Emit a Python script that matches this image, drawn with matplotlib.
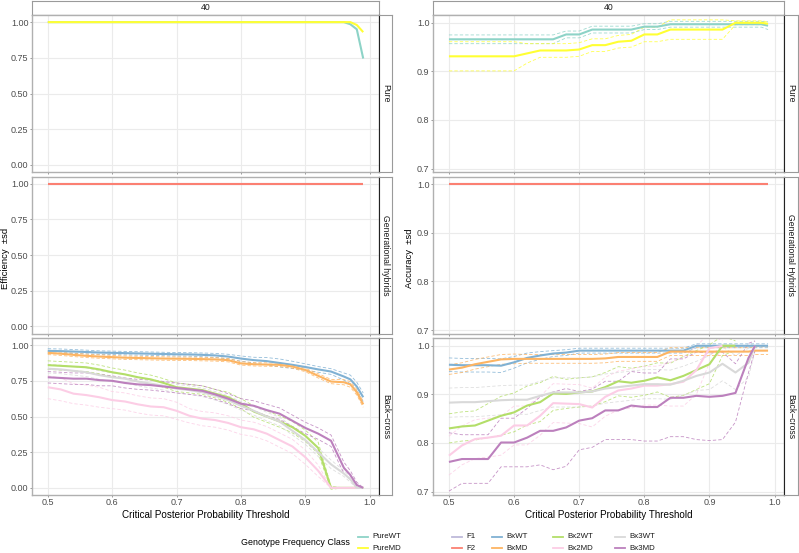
import numpy as np
import matplotlib.pyplot as plt
from matplotlib.lines import Line2D

plt.rcParams['font.family'] = ['Liberation Sans', 'DejaVu Sans']

nan = np.nan

# critical posterior probability thresholds
threshold = [0.50, 0.52, 0.54, 0.56, 0.58, 0.60, 0.62, 0.64, 0.66, 0.68, 0.70, 0.72,
             0.74, 0.76, 0.78, 0.80, 0.82, 0.84, 0.86, 0.88, 0.90, 0.92, 0.94, 0.96,
             0.97, 0.98, 0.99]

classes = ['PureWT', 'PureMD', 'F1', 'F2', 'BxWT', 'BxMD', 'Bx2WT', 'Bx2MD', 'Bx3WT', 'Bx3MD']
class_colors = ['#8dd3c7', '#ffff33', '#bebada', '#fb8072', '#80b1d3',
                '#fdb462', '#b3de69', '#fccde5', '#d9d9d9', '#bc80bd']
row_labels_eff = ['Pure', 'Generational hybrids', 'Back\u2212cross']
row_labels_acc = ['Pure', 'Generational Hybrids', 'Back\u2212cross']

# ---- efficiency (mean, sd) ----
eff_purewt = [1.0] * 24 + [0.985, 0.95, 0.745]
eff_puremd = [1.0] * 25 + [0.98, 0.93]
eff_f1 = [1.0] * 27
eff_f2 = [1.0] * 27
eff_bxwt = [.960, .958, .955, .952, .948, .946, .944, .942, .940, .938, .936, .935, .932,
            .928, .920, .906, .895, .888, .875, .862, .847, .830, .815, .780, .760, .710, .635]
eff_bxwt_sd = [.015, .015, .014, .013, .012, .012, .012, .012, .012, .012, .012, .012, .013,
               .014, .016, .018, .020, .025, .028, .025, .022, .020, .020, .025, .030, .030, .030]
eff_bxmd = [.946, .940, .932, .925, .920, .916, .912, .910, .908, .906, .905, .904, .902,
            .900, .895, .872, .866, .864, .862, .850, .826, .785, .745, .740, .725, .670, .585]
eff_bxmd_sd = [.012, .012, .012, .012, .012, .012, .012, .012, .012, .012, .012, .012, .012,
               .012, .012, .012, .012, .012, .012, .012, .012, .015, .015, .018, .020, .020, .020]
eff_bx2wt = [.860, .855, .850, .845, .830, .810, .795, .775, .760, .735, .705, .695, .685,
             .660, .635, .590, .535, .500, .465, .425, .365, .280, .000, 0, 0, 0, 0]
eff_bx2wt_sd = [.03, .03, .03, .03, .03, .03, .03, .03, .03, .03, .03, .03, .03,
                .03, .035, .035, .04, .04, .04, .04, .04, .04, .01, 0, 0, 0, 0]
eff_bx2md = [.705, .690, .660, .650, .635, .615, .605, .585, .570, .565, .540, .505, .485,
             .475, .455, .425, .410, .380, .335, .290, .215, .120, .000, 0, 0, 0, 0]
eff_bx2md_sd = [.08, .08, .07, .07, .07, .06, .06, .06, .06, .06, .06, .05, .05,
                .05, .05, .05, .05, .05, .05, .05, .05, .04, 0, 0, 0, 0, 0]
eff_bx3wt = [.835, .830, .820, .810, .790, .775, .765, .745, .730, .715, .695, .685, .670,
             .645, .615, .575, .540, .500, .465, .400, .335, .250, .165, .100, .060, .000, 0]
eff_bx3wt_sd = [.03, .03, .03, .03, .03, .03, .03, .03, .03, .03, .03, .03, .03,
                .03, .03, .03, .03, .03, .03, .03, .03, .03, .03, .02, .02, 0, 0]
eff_bx3md = [.775, .770, .765, .765, .755, .750, .735, .725, .720, .710, .700, .690, .680,
             .655, .625, .590, .575, .545, .520, .470, .420, .380, .330, .140, .090, .020, 0]
eff_bx3md_sd = [.04, .04, .04, .04, .04, .035, .035, .035, .035, .035, .035, .035, .035,
                .035, .035, .035, .035, .04, .04, .04, .04, .04, .04, .04, .03, .02, 0]

# ---- accuracy (mean, sd) ----
acc_purewt = [.966, .966, .966, .966, .966, .966, .966, .966, .966, .976, .976, .986, .986,
              .986, .986, .992, .992, .997, .997, .997, .997, .997, .997, .997, .997, .997, .994]
acc_purewt_sd = [.009, .009, .009, .009, .009, .009, .009, .009, .009, .007, .007, .007, .007,
                 .007, .007, .006, .006, .006, .006, .006, .006, .006, .006, .006, .006, .006, .008]
acc_puremd = [.931, .931, .931, .931, .931, .931, .937, .943, .943, .943, .945, .954, .954,
              .961, .963, .976, .976, .986, .986, .986, .986, .986, 1.0, 1.0, 1.0, 1.0, .998]
acc_puremd_sd = [.030, .030, .030, .030, .030, .030, .020, .014, .014, .014, .014, .013, .013,
                 .013, .013, .015, .015, .020, .020, .020, .020, .020, .004, .004, .004, .004, .004]
acc_f1 = [1.0] * 27
acc_f2 = [1.0] * 27
acc_bxwt = [.961, .960, .960, .960, .959, .966, .975, .980, .984, .986, .990, .990, .990,
            .990, .990, .990, .990, .990, .990, 1.0, 1.0, 1.0, 1.0, 1.0, 1.0, 1.0, 1.0]
acc_bxwt_sd = [.014, .014, .014, .014, .014, .012, .010, .008, .006, .006, .005, .005, .005,
               .005, .005, .005, .005, .005, .005, .004, .004, .004, .004, .004, .004, .004, .004]
acc_bxmd = [.951, .955, .962, .967, .972, .973, .973, .973, .973, .973, .973, .973, .974,
            .977, .977, .977, .977, .988, .988, .988, .988, .988, .988, .988, .990, .990, .990]
acc_bxmd_sd = [.010, .010, .010, .010, .010, .010, .009, .009, .009, .009, .009, .009, .009,
               .009, .009, .009, .009, .008, .008, .008, .008, .008, .008, .008, .008, .008, .008]
acc_bx2wt = [.830, .834, .836, .846, .856, .863, .877, .884, .902, .901, .904, .906, .915,
             .927, .924, .928, .935, .929, .938, .950, .962, 1.0, 1.0, nan, nan, nan, nan]
acc_bx2wt_sd = [.03, .03, .03, .035, .04, .04, .04, .04, .035, .03, .03, .03, .03,
                .03, .03, .03, .03, .035, .04, .04, .04, .02, .01, nan, nan, nan, nan]
acc_bx2md = [.774, .795, .808, .811, .815, .836, .836, .856, .882, .881, .880, .873, .895,
             .908, .912, .918, .918, .921, .926, .950, .995, 1.0, nan, nan, nan, nan, nan]
acc_bx2md_sd = [.04, .04, .04, .04, .04, .04, .04, .04, .04, .04, .04, .04, .04,
                .04, .04, .04, .04, .045, .05, .05, .03, .01, nan, nan, nan, nan, nan]
acc_bx3wt = [.883, .884, .884, .886, .888, .889, .889, .897, .904, .904, .904, .906, .912,
             .915, .918, .921, .921, .920, .928, .938, .945, .963, .945, .965, 1.0, nan, nan]
acc_bx3wt_sd = [.03, .03, .03, .03, .03, .03, .03, .03, .03, .03, .03, .03, .03,
                .03, .03, .03, .03, .03, .03, .03, .035, .035, .035, .03, .01, nan, nan]
acc_bx3md = [.761, .767, .767, .767, .801, .801, .811, .825, .825, .832, .846, .851, .867,
             .867, .877, .874, .874, .893, .893, .897, .895, .897, .903, .975, 1.0, nan, nan]
acc_bx3md_sd = [.06, .05, .05, .05, .05, .05, .06, .07, .08, .08, .06, .06, .06,
                .06, .07, .07, .07, .08, .08, .09, .09, .09, .06, .03, .01, nan, nan]

# panel contents: list of (class, mean, sd)
eff_rows = [
    [('PureWT', eff_purewt, None), ('PureMD', eff_puremd, None)],
    [('F1', eff_f1, None), ('F2', eff_f2, None)],
    [('BxWT', eff_bxwt, eff_bxwt_sd), ('BxMD', eff_bxmd, eff_bxmd_sd),
     ('Bx2WT', eff_bx2wt, eff_bx2wt_sd), ('Bx2MD', eff_bx2md, eff_bx2md_sd),
     ('Bx3WT', eff_bx3wt, eff_bx3wt_sd), ('Bx3MD', eff_bx3md, eff_bx3md_sd)],
]
acc_rows = [
    [('PureWT', acc_purewt, acc_purewt_sd), ('PureMD', acc_puremd, acc_puremd_sd)],
    [('F1', acc_f1, None), ('F2', acc_f2, None)],
    [('BxWT', acc_bxwt, acc_bxwt_sd), ('BxMD', acc_bxmd, acc_bxmd_sd),
     ('Bx2WT', acc_bx2wt, acc_bx2wt_sd), ('Bx2MD', acc_bx2md, acc_bx2md_sd),
     ('Bx3WT', acc_bx3wt, acc_bx3wt_sd), ('Bx3MD', acc_bx3md, acc_bx3md_sd)],
]
color_of = dict(zip(classes, class_colors))

W, H = 799, 553
fig = plt.figure(figsize=(W / 100, H / 100), dpi=100)


def box(x0, y0, x1, y1):
    return [x0 / W, 1 - y1 / H, (x1 - x0) / W, (y1 - y0) / H]


rows_px = [(15, 172), (176.5, 333.5), (338, 495)]
x = np.array(threshold)


def strip(rect, text, rot):
    s = fig.add_axes(rect)
    s.set_xticks([])
    s.set_yticks([])
    s.set_facecolor('white')
    for sp in s.spines.values():
        sp.set_color('#9a9a9a')
        sp.set_linewidth(0.8)
    s.text(0.5, 0.5, text, rotation=rot, ha='center', va='center',
           fontsize=6.2, color='#1a1a1a', transform=s.transAxes)
    return s


def column(x0, x1, sx1, rows, row_labels, ylim, yticks, ylabels, ytitle, ytitle_x):
    st = strip(box(x0, 0.5, x1, 15), '40', 0)
    st.spines['bottom'].set_color('#222222')
    for r, (y0, y1) in enumerate(rows_px):
        ax = fig.add_axes(box(x0, y0, x1, y1))
        ax.set_xlim(0.4755, 1.0145)
        ax.set_ylim(*ylim)
        ax.set_xticks([0.5, 0.6, 0.7, 0.8, 0.9, 1.0])
        ax.set_yticks(yticks)
        ax.set_yticklabels(ylabels)
        ax.grid(True, color='#ebebeb', linewidth=0.8)
        ax.set_axisbelow(True)
        for sp in ax.spines.values():
            sp.set_color('#b0b0b0')
            sp.set_linewidth(1.0)
        ax.tick_params(length=1.5, width=0.6, color='#8a8a8a', labelsize=6.5,
                       labelcolor='#4d4d4d', pad=1.0)
        if r < 2:
            ax.tick_params(axis='x', labelbottom=False)
        else:
            ax.set_xticklabels(['0.5', '0.6', '0.7', '0.8', '0.9', '1.0'])
            ax.set_xlabel('Critical Posterior Probability Threshold', fontsize=7.1,
                          labelpad=1.5, color='black')
        for name, mean, sd in rows[r]:
            c = color_of[name]
            m = np.array(mean, dtype=float)
            if sd is not None:
                s = np.array(sd, dtype=float)
                for band in (m + s, m - s):
                    ax.plot(x, band, color=c, linewidth=0.6, linestyle=(0, (4, 2.5)),
                            alpha=0.85, zorder=2)
            ax.plot(x, m, color=c, linewidth=1.5, zorder=3, solid_capstyle='butt')
        rs = strip(box(x1, y0, sx1, y1), row_labels[r], -90)
        rs.spines['left'].set_color('#222222')
    fig.text(ytitle_x / W, 1 - 258 / H, ytitle, rotation=90, ha='center', va='center',
             fontsize=6.8, color='black')


column(32, 379, 392, eff_rows, row_labels_eff, (-0.05, 1.05),
       [0, 0.25, 0.5, 0.75, 1.0], ['0.00', '0.25', '0.50', '0.75', '1.00'],
       'Efficiency  \u00b1sd', 5.5)
column(433, 784, 798, acc_rows, row_labels_acc, (0.693, 1.016),
       [0.7, 0.8, 0.9, 1.0], ['0.7', '0.8', '0.9', '1.0'],
       'Accuracy  \u00b1sd', 409)

# legend: two rows, five columns, title on the left
legend_key_x = [358, 452, 492, 553, 615]
legend_row_y = [537, 548]
fig.text(350 / W, 1 - 542.5 / H, 'Genotype Frequency Class', ha='right', va='center',
         fontsize=6.4, color='black')
for i, name in enumerate(classes):
    col, row = divmod(i, 2)
    kx = legend_key_x[col]
    ky = legend_row_y[row]
    fig.add_artist(Line2D([kx / W, (kx + 10) / W], [1 - ky / H, 1 - ky / H],
                          color=color_of[name], linewidth=1.3))
    fig.text((kx + 14) / W, 1 - ky / H, name, ha='left', va='center',
             fontsize=5.7, color='#1a1a1a')

fig.savefig('out.png', dpi=100, facecolor='white')
